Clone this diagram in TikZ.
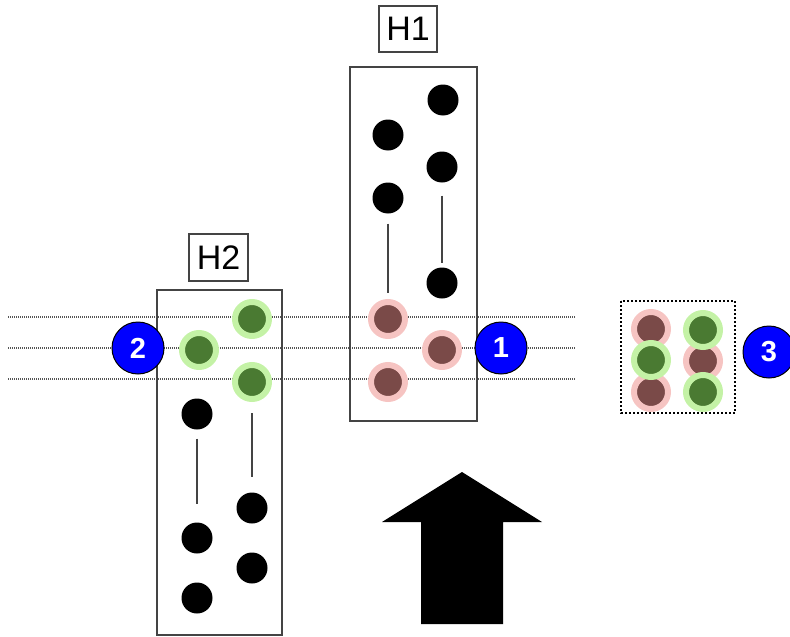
\documentclass[tikz,border=0pt]{standalone}
\usepackage{fontspec}
\setmainfont{Liberation Sans}
\definecolor{boxgray}{HTML}{444444}
\definecolor{dotgray}{HTML}{555555}
\definecolor{redin}{HTML}{7A4A48}
\definecolor{redhalo}{HTML}{F6C4C2}
\definecolor{greenin}{HTML}{4A7A32}
\definecolor{greenhalo}{HTML}{C4F2A6}
\definecolor{numblue}{HTML}{0000FF}
\tikzset{
  blackdot/.style={circle,fill=black,minimum size=31pt,inner sep=0pt,outer sep=0pt},
  reddot/.style={circle,fill=redin,draw=redhalo,line width=6pt,minimum size=34pt,inner sep=0pt,outer sep=0pt},
  greendot/.style={circle,fill=greenin,draw=greenhalo,line width=6pt,minimum size=34pt,inner sep=0pt,outer sep=0pt},
  numcirc/.style={circle,fill=numblue,draw=black,line width=1pt,minimum size=52pt,inner sep=0pt,outer sep=0pt,
    text=white,font=\fontsize{29}{29}\selectfont\bfseries},
  labelbox/.style={draw=boxgray,line width=1.3pt,inner sep=0pt,outer sep=0pt,
    font=\fontsize{34}{34}\selectfont},
  holder/.style={draw=boxgray,line width=1.5pt},
  guide/.style={draw=dotgray,line width=1.2pt,dash pattern=on 1pt off 1pt},
  link/.style={draw=boxgray,line width=1.5pt},
  groupbox/.style={draw=black,line width=1.5pt,dash pattern=on 2pt off 2pt},
}
\begin{document}
\begin{tikzpicture}[x=1pt,y=-1pt]
\useasboundingbox (0,0) rectangle (790,637);
% guide lines
\coordinate (g1a) at (8,317); \coordinate (g1b) at (575,317);
\coordinate (g2a) at (8,348); \coordinate (g2b) at (575,348);
\coordinate (g3a) at (8,379); \coordinate (g3b) at (575,379);
\draw[guide] (g1a) -- (g1b);
\draw[guide] (g2a) -- (g2b);
\draw[guide] (g3a) -- (g3b);
% holders
\draw[holder] (350,67) rectangle (477,421);
\draw[holder] (157,290) rectangle (282,635);
% labels
\node[labelbox,minimum width=58pt,minimum height=46pt] (h1) at (408,29) {H1};
\node[labelbox,minimum width=59pt,minimum height=47pt] (h2) at (218.5,257.5) {H2};
% H1 dots
\node[blackdot] (a1) at (443,100) {};
\node[blackdot] (a2) at (388,135) {};
\node[blackdot] (a3) at (442,167) {};
\node[blackdot] (a4) at (388,198) {};
\node[blackdot] (a5) at (442,283) {};
\node[reddot] (r1) at (388,319) {};
\node[reddot] (r2) at (442,350) {};
\node[reddot] (r3) at (388,382) {};
\draw[link,shorten <=10pt,shorten >=9pt] (a4) -- (r1);
\draw[link,shorten <=13pt,shorten >=5pt] (a3) -- (a5);
% H2 dots
\node[greendot] (q1) at (252,319) {};
\node[greendot] (q2) at (199,350) {};
\node[greendot] (q3) at (252,382) {};
\node[blackdot] (b1) at (197,414) {};
\node[blackdot] (b2) at (252,508) {};
\node[blackdot] (b3) at (197,538) {};
\node[blackdot] (b4) at (252,568) {};
\node[blackdot] (b5) at (197,598) {};
\draw[link,shorten <=9pt,shorten >=19pt] (b1) -- (b3);
\draw[link,shorten <=14pt,shorten >=16pt] (q3) -- (b2);
% number circles
\node[numcirc] (n1) at (501,348) {1};
\node[numcirc] (n2) at (138,348) {2};
\node[numcirc] (n3) at (769,352) {3};
% group box 3
\draw[groupbox] (621,301) rectangle (735,413);
\node[reddot] (c1) at (651,329) {};
\node[reddot] (c3) at (651,392) {};
\node[reddot] (c5) at (703,361) {};
\node[greendot] (c2) at (651,360) {};
\node[greendot] (c4) at (703,330) {};
\node[greendot] (c6) at (703,392) {};
% big arrow
\fill[black] (462,472) -- (542,522) -- (503,522) -- (503,624) -- (421,624) -- (421,522) -- (382,522) -- cycle;
\end{tikzpicture}
\end{document}
